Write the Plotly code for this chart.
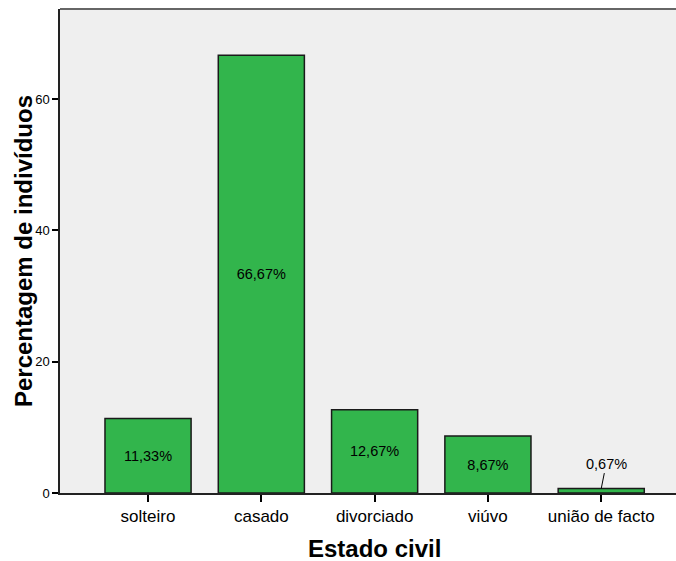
import plotly.graph_objects as go

# dados do gráfico (percentagem por estado civil)
categorias = ["solteiro", "casado", "divorciado", "viúvo", "união de facto"]
percentagens = [11.33, 66.67, 12.67, 8.67, 0.67]
rotulos = ["11,33%", "66,67%", "12,67%", "8,67%", "0,67%"]
y_ticks = [0, 20, 40, 60]

FONTE = "Liberation Sans, Arial, sans-serif"
VERDE = "#32B54C"

# rótulos dentro das barras; a barra muito pequena recebe uma anotação com linha
texto_barras = [r if p > 5 else "" for r, p in zip(rotulos, percentagens)]

fig = go.Figure(
    go.Bar(
        x=list(range(len(categorias))),
        y=percentagens,
        width=0.76,
        marker=dict(color=VERDE, line=dict(color="#1a1a1a", width=1.5)),
        text=texto_barras,
        textposition="inside",
        insidetextanchor="middle",
        textangle=0,
        textfont=dict(family=FONTE, size=14.5, color="black"),
        hoverinfo="skip",
    )
)

for i, (r, p) in enumerate(zip(rotulos, percentagens)):
    if p <= 5:
        fig.add_annotation(
            x=i, y=p, text=r, showarrow=True, arrowhead=0, arrowwidth=1,
            arrowcolor="black", ax=5, ay=-25, standoff=0,
            font=dict(family=FONTE, size=14.5, color="black"),
        )

# títulos dos eixos como anotações para controlar a posição
fig.add_annotation(
    x=0.511, y=-0.114, xref="paper", yref="paper", text="<b>Estado civil</b>",
    showarrow=False, yanchor="middle",
    font=dict(family=FONTE, size=24, color="black"),
)
fig.add_annotation(
    x=-0.06, y=0.5, xref="paper", yref="paper", text="<b>Percentagem de indivíduos</b>",
    showarrow=False, textangle=-90, xanchor="center",
    font=dict(family=FONTE, size=24, color="black"),
)

fig.update_layout(
    width=676,
    height=561,
    margin=dict(l=60, r=0, t=9, b=68, autoexpand=False),
    paper_bgcolor="white",
    plot_bgcolor="#EFEFEF",
    showlegend=False,
    font=dict(family=FONTE, color="black"),
)
fig.update_xaxes(
    range=[-0.777, 4.66],
    tickmode="array",
    tickvals=list(range(len(categorias))),
    ticktext=categorias,
    ticks="outside",
    ticklen=7,
    tickwidth=1.5,
    tickcolor="black",
    tickfont=dict(family=FONTE, size=17, color="black"),
    showline=True,
    linecolor="#222",
    linewidth=1.5,
    mirror=False,
    showgrid=False,
    zeroline=False,
)
fig.update_yaxes(
    range=[0, 73.7],
    tickvals=y_ticks,
    ticks="outside",
    ticklen=6,
    tickwidth=1.5,
    tickcolor="black",
    tickfont=dict(family=FONTE, size=13, color="black"),
    showline=True,
    linecolor="#222",
    linewidth=1.5,
    showgrid=False,
    zeroline=False,
)
# linha superior da moldura (cinzenta, como no original)
fig.add_shape(
    type="line", xref="paper", yref="paper", x0=0, x1=1, y0=1, y1=1,
    line=dict(color="#666", width=2),
)

# a página tem margem de 8px por omissão; remove-a para a figura ocupar a janela
fig.write_html(
    "out.html",
    config={"displayModeBar": False},
    post_script="document.body.style.margin='0';",
)
